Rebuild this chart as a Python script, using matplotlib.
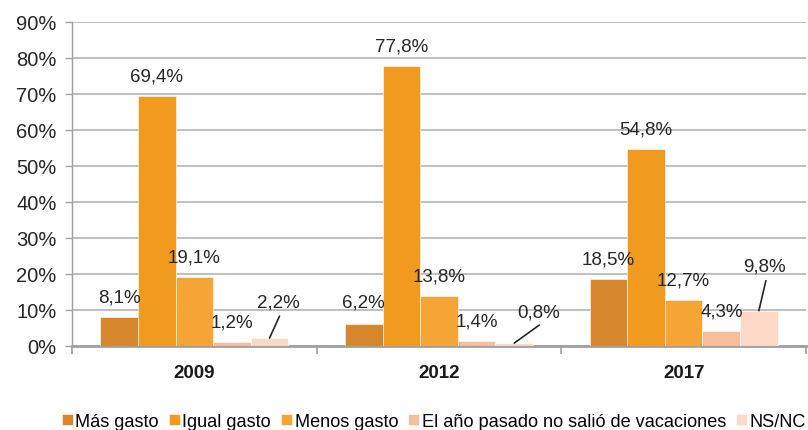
import matplotlib
matplotlib.use("Agg")
import matplotlib.pyplot as plt
import numpy as np

years = ["2009", "2012", "2017"]
series = ["Más gasto", "Igual gasto", "Menos gasto",
          "El año pasado no salió de vacaciones", "NS/NC"]
mas_gasto = [8.1, 6.2, 18.5]
igual_gasto = [69.4, 77.8, 54.8]
menos_gasto = [19.1, 13.8, 12.7]
no_salio = [1.2, 1.4, 4.3]
ns_nc = [2.2, 0.8, 9.8]
values = [mas_gasto, igual_gasto, menos_gasto, no_salio, ns_nc]
yticks = [0, 10, 20, 30, 40, 50, 60, 70, 80, 90]

colors = ["#D6862B", "#F09A20", "#F4A535", "#F8BE9C", "#FBD9C6"]

# label offsets in pixels (dx, dy) relative to bar top centre; default (0, 20)
special = {(4, 0): (9, 36), (4, 1): (24, 31), (4, 2): (6, 45),
           (0, 1): (0, 22), (3, 2): (1, 20)}
leaders = {(4, 0): (10, 22), (4, 1): (25, 18), (4, 2): (7, 30)}

plt.rcParams['font.family'] = ['Liberation Sans', 'DejaVu Sans']

fig = plt.figure(figsize=(8.08, 4.31), dpi=100)
ax = fig.add_axes([72/808, (431-347)/431, (806-72)/808, (347-23)/431])

n = len(series)
width = 37.6 / 244.67
x = np.arange(len(years))
for i, (name, vals) in enumerate(zip(series, values)):
    pos = x + (i - (n - 1) / 2) * width
    ax.bar(pos, vals, width=width, color=colors[i], label=name,
           edgecolor="white", linewidth=0.4, zorder=3)
    for j, v in enumerate(vals):
        dx, dy = special.get((i, j), (0, 20))
        ax.annotate(f"{v:.1f}%".replace(".", ","), xy=(pos[j], v),
                    xytext=(dx, dy), textcoords="offset pixels",
                    ha="center", va="center", fontsize=13.5, color="#262626",
                    zorder=5)
        if (i, j) in leaders:
            ex, ey = leaders[(i, j)]
            ax.annotate("", xy=(pos[j], v), xytext=(ex, ey),
                        textcoords="offset pixels",
                        arrowprops=dict(arrowstyle="-", color="#262626",
                                        lw=1.2, shrinkA=0, shrinkB=0),
                        zorder=5)

ax.set_xlim(-0.5, 2.5)
ax.set_ylim(0, 90)
ax.set_yticks(yticks)
ax.set_yticklabels([f"{t}%" for t in yticks], fontsize=14.5, color="#262626")
ax.yaxis.grid(True, color="#B4B4B4", linewidth=1.2, zorder=0)
ax.set_axisbelow(True)

ax.set_xticks([-0.5, 0.5, 1.5, 2.5])
ax.set_xticklabels([])
ax.set_xticks(x, minor=True)
ax.set_xticklabels(years, minor=True, fontsize=13.5, fontweight="bold",
                   color="#1A1A1A")
ax.tick_params(axis="x", which="minor", length=0, pad=13)
ax.tick_params(axis="x", which="major", length=6, color="#A0A0A0", width=1.2)
ax.tick_params(axis="y", length=5, color="#A0A0A0", width=1, pad=6)

for s in ["top", "right"]:
    ax.spines[s].set_visible(False)
ax.spines["left"].set_color("#A0A0A0")
ax.spines["left"].set_linewidth(1)
ax.spines["bottom"].set_color("#A0A0A0")
ax.spines["bottom"].set_linewidth(2)

fig.legend(loc="lower center", bbox_to_anchor=(0.537, -0.025), ncol=5,
           frameon=False, handlelength=0.6, handleheight=0.6,
           handletextpad=0.15, columnspacing=0.55, borderaxespad=0.2,
           prop={"family": "Liberation Sans", "size": 13.1})

fig.savefig("out.png", dpi=100)
